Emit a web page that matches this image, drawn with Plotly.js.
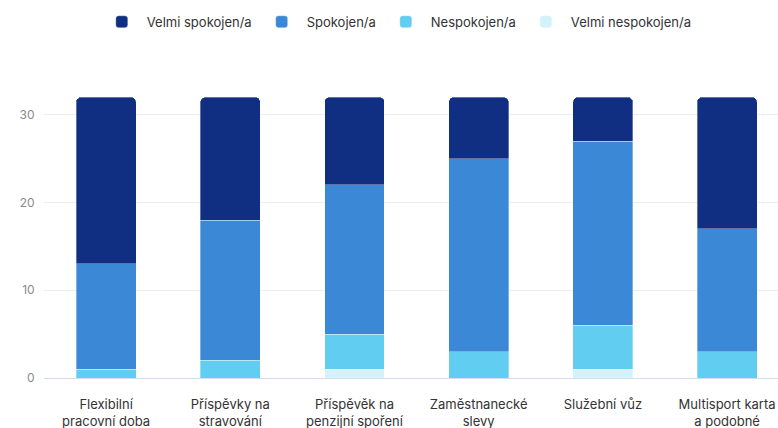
<!DOCTYPE html>
<html>
<head>
<meta charset="utf-8">
<script src="https://cdn.plot.ly/plotly-3.0.1.min.js"></script>
<style>html,body{margin:0;padding:0;background:#fff;}#chart{width:778px;height:428px;}</style>
</head>
<body>
<div id="chart"></div>
<script>
const categories = [
  "Flexibilní<br>pracovní doba",
  "Příspěvky na<br>stravování",
  "Příspěvěk na<br>penzijní spoření",
  "Zaměstnanecké<br>slevy",
  "Služební vůz",
  "Multisport karta<br>a podobné"
];
const velmiSpokojen = [19, 14, 10, 7, 5, 15];
const spokojen = [12, 16, 17, 22, 21, 14];
const nespokojen = [1, 2, 4, 3, 5, 3];
const velmiNespokojen = [0, 0, 1, 0, 1, 0];

const seriesNames = ["Velmi nespokojen/a", "Nespokojen/a", "Spokojen/a", "Velmi spokojen/a"];
const seriesValues = [velmiNespokojen, nespokojen, spokojen, velmiSpokojen];
const seriesColors = ["#d3f2fc", "#61cdf1", "#3b89d6", "#112f82"];

const traces = seriesNames.map((name, i) => ({
  type: "bar",
  name: name,
  x: categories,
  y: seriesValues[i],
  marker: {color: seriesColors[i], line: {color: "rgba(255,255,255,0.55)", width: 0.6}},
  hoverinfo: "x+y+name"
}));

const layout = {
  width: 778,
  height: 428,
  paper_bgcolor: "#ffffff",
  plot_bgcolor: "#ffffff",
  barmode: "stack",
  bargap: 0.517,
  barcornerradius: 5,
  font: {family: "Inter, 'Noto Sans', sans-serif", size: 13, color: "#333333"},
  margin: {l: 44, r: 0, t: 70, b: 50},
  showlegend: true,
  legend: {
    orientation: "h",
    traceorder: "reversed",
    xref: "container",
    yref: "container",
    x: 0.51,
    xanchor: "center",
    y: 0.949,
    yanchor: "middle",
    font: {size: 13, color: "#333333"},
    itemwidth: 40
  },
  xaxis: {
    range: [-0.5, 5.41],
    showgrid: false,
    zeroline: false,
    showline: false,
    ticks: "outside",
    ticklen: 14,
    tickcolor: "rgba(0,0,0,0)",
    tickfont: {size: 13, color: "#333333"},
    fixedrange: true
  },
  yaxis: {
    range: [0, 35.1],
    tickvals: [0, 10, 20, 30],
    showgrid: true,
    gridcolor: "#ececec",
    gridwidth: 1,
    zeroline: true,
    zerolinecolor: "#d4dcee",
    zerolinewidth: 1,
    showline: false,
    ticks: "outside",
    ticklen: 6,
    tickcolor: "rgba(0,0,0,0)",
    tickfont: {size: 12, color: "#8a8a8a"},
    fixedrange: true
  }
};

Plotly.newPlot("chart", traces, layout, {displayModeBar: false, staticPlot: true});
</script>
</body>
</html>
